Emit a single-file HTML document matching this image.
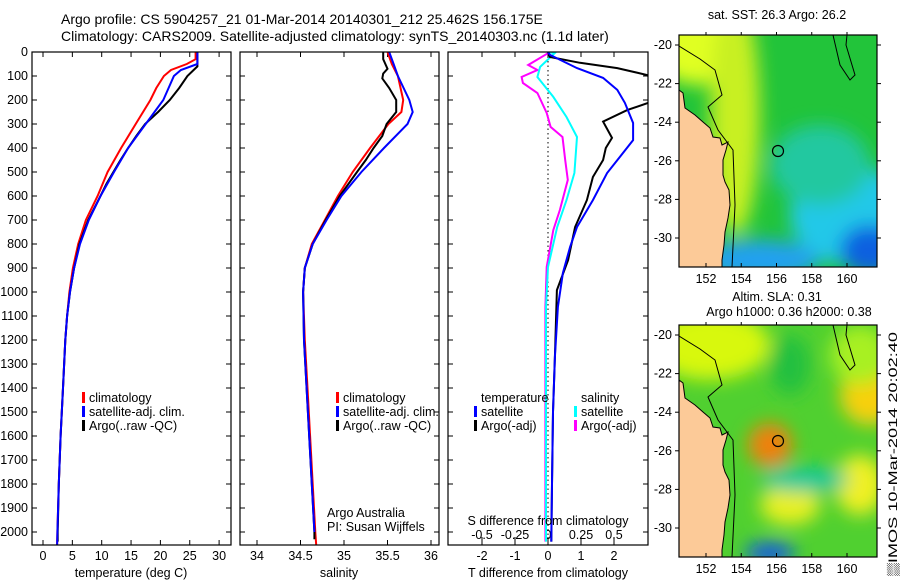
<!DOCTYPE html>
<html><head><meta charset="utf-8"><style>
body{margin:0;background:#fff;}
svg{display:block;font-family:"Liberation Sans",sans-serif;}
text{font-size:12.5px;fill:#000;}
</style></head><body>
<svg id="s" width="900" height="580" viewBox="0 0 900 580" xmlns="http://www.w3.org/2000/svg">
<defs>
<filter id="bl" x="-50%" y="-50%" width="200%" height="200%"><feGaussianBlur stdDeviation="9"/></filter>
<clipPath id="c1"><rect x="32" y="52" width="199" height="493"/></clipPath>
<clipPath id="c2"><rect x="240" y="52" width="199" height="493"/></clipPath>
<clipPath id="c3"><rect x="448" y="52" width="200" height="493"/></clipPath>
<clipPath id="m1"><rect x="679" y="35" width="198" height="232"/></clipPath>
<clipPath id="m2"><rect x="679" y="325" width="198" height="232"/></clipPath>
</defs>
<text x="61" y="24" style="font-size:14px">Argo profile: CS 5904257_21 01-Mar-2014 20140301_212 25.462S 156.175E</text>
<text x="61" y="41" style="font-size:14px">Climatology: CARS2009. Satellite-adjusted climatology: synTS_20140303.nc (1.1d later)</text>
<g id="g"></g>
</svg>
<script>
// ---- data ----
const depthTicks=[0,100,200,300,400,500,600,700,800,900,1000,1100,1200,1300,1400,1500,1600,1700,1800,1900,2000];
const tempTicks=[0,5,10,15,20,25,30];
const salTicks=[34,34.5,35,35.5,36];
const tdiffTicks=[-2,-1,0,1,2];
const sdiffTicks=[-0.5,-0.25,0,0.25,0.5];
const sdiffLabels=["-0.5","-0.25","0","0.25","0.5"];
const lonTicks=[152,154,156,158,160];
const latTicks=[-20,-22,-24,-26,-28,-30];

const tClimD=[0,30,50,75,100,150,200,300,400,500,600,700,800,900,1000,1100,1200,1400,1600,1800,2000,2054];
const tClimV=[26,26,24.5,21.8,20.6,19.3,18.3,15.8,13.3,11,9.3,7.3,6,5.1,4.5,4.1,3.8,3.4,3.0,2.7,2.45,2.4];
const tSatD=[0,50,75,100,150,200,300,400,500,600,700,800,900,1000,1100,1200,1400,1600,1800,2000,2054];
const tSatV=[26.3,26.3,23.5,22.3,21.4,20.5,17.5,14.5,12.1,9.8,7.8,6.3,5.3,4.6,4.1,3.8,3.4,3.0,2.7,2.45,2.4];
const tArgD=[0,60,100,150,200,250,300,350,400,450,500,550,600,700,800,900,1000,1100,1200,1400,1600,1800,2000,2040];
const tArgV=[26.3,26.3,24.6,23.2,21.6,19.6,17.4,15.9,14.5,13.2,12,10.8,9.8,7.7,6.2,5.3,4.6,4.1,3.8,3.4,3.0,2.7,2.5,2.5];

const sClimD=[0,50,100,200,250,300,400,500,600,700,800,900,1000,1200,1400,1600,1800,2000,2054];
const sClimV=[35.5,35.55,35.62,35.68,35.66,35.51,35.3,35.1,34.93,34.78,34.63,34.55,34.53,34.55,34.58,34.61,34.64,34.67,34.68];
const sSatD=[0,50,100,200,250,300,400,500,600,700,800,900,1000,1200,1400,1600,1800,2000];
const sSatV=[35.52,35.57,35.62,35.75,35.79,35.73,35.46,35.2,34.97,34.8,34.64,34.55,34.53,34.54,34.57,34.6,34.63,34.66];
const sArgD=[0,30,70,90,110,150,200,250,300,350,400,450,500,600,700,800,900,1000,1200,1400,1600,1800,2000,2030];
const sArgV=[35.45,35.45,35.5,35.45,35.44,35.52,35.6,35.6,35.49,35.44,35.34,35.25,35.15,34.95,34.79,34.64,34.55,34.53,34.54,34.57,34.6,34.63,34.66,34.66];

const dTSatD=[0,12,67,108,158,212,296,367,437,504,617,729,812,921,1062,1271,1500,1800,2040];
const dTSatV=[0,0.06,0.88,1.67,2.1,2.33,2.58,2.58,2.18,1.79,1.36,0.88,0.67,0.45,0.3,0.21,0.15,0.12,0.1];
const dTArgD=[0,21,45,67,96,150,212,242,290,358,400,450,521,617,729,867,992,1271,1500,1800,2040];
const dTArgV=[0,0.06,0.97,2.1,3.0,3.4,3.03,2.4,1.67,1.94,1.75,1.67,1.36,1.18,0.82,0.61,0.27,0.21,0.15,0.12,0.1];
const dSSatD=[0,5,62,104,187,271,354,504,617,729,896,1062,1500,2040];
const dSSatV=[0,0.05,-0.06,-0.08,0.04,0.14,0.22,0.2,0.14,0.07,0,-0.015,-0.015,-0.015];
const dSArgD=[0,5,54,75,104,129,171,254,312,354,450,533,658,742,896,1062,1500,2040];
const dSArgV=[0,0,-0.15,-0.08,-0.2,-0.19,-0.08,-0.01,0.02,0.11,0.13,0.15,0.09,0.04,-0.01,-0.02,-0.02,-0.02];

// ---- helpers ----
const NS="http://www.w3.org/2000/svg", G=document.getElementById('g');
function el(t,a,p){const e=document.createElementNS(NS,t);for(const k in a)e.setAttribute(k,a[k]);(p||G).appendChild(e);return e;}
const yD=d=>52+d*0.24;
const xT=v=>43+v*5.87;
const xS=v=>257+(v-34)*87;
const xDT=v=>548+v*33;
const xDS=v=>548+v*132;
function line(D,V,fx,col,clip,name,w){
  const p=el('polyline',{points:D.map((d,i)=>fx(V[i]).toFixed(1)+','+yD(d).toFixed(1)).join(' '),fill:'none',stroke:col,'stroke-width':w||2,'clip-path':'url(#'+clip+')'});
  
  
}
function txt(x,y,s,anchor,name,extra){
  const t=el('text',Object.assign({x:x,y:y,'text-anchor':anchor||'start'},extra||{}));t.textContent=s;
  
  
  return t;}
function frame(x,y,w,h,name){const r=el('rect',{x:x,y:y,width:w,height:h,fill:'none',stroke:'#000','stroke-width':1.2});
  
  }

// depth axis
depthTicks.forEach(d=>{txt(28,yD(d)+4,String(d),'end','depth-tick-label');
  [32,240,448].forEach(x0=>{el('line',{x1:x0,x2:x0+5,y1:yD(d),y2:yD(d),stroke:'#000'});el('line',{x1:x0+(x0==448?200:199),x2:x0+(x0==448?195:194),y1:yD(d),y2:yD(d),stroke:'#000'});});});

// panel 1
tempTicks.forEach(v=>{const x=xT(v);el('line',{x1:x,x2:x,y1:545,y2:540,stroke:'#000'});el('line',{x1:x,x2:x,y1:52,y2:57,stroke:'#000'});txt(x,560,String(v),'middle','temp-tick-label');});
line(tClimD,tClimV,xT,'#f00','c1','temp-climatology-line');
line(tArgD,tArgV,xT,'#000','c1','temp-argo-line');
line(tSatD,tSatV,xT,'#00f','c1','temp-satellite-line');
frame(32,52,199,493,'temperature-panel');
txt(131,577,'temperature (deg C)','middle','temp-axis-title');
// panel 2
salTicks.forEach(v=>{const x=xS(v);el('line',{x1:x,x2:x,y1:545,y2:540,stroke:'#000'});el('line',{x1:x,x2:x,y1:52,y2:57,stroke:'#000'});txt(x,560,String(v),'middle','sal-tick-label');});
line(sClimD,sClimV,xS,'#f00','c2','sal-climatology-line');
line(sArgD,sArgV,xS,'#000','c2','sal-argo-line');
line(sSatD,sSatV,xS,'#00f','c2','sal-satellite-line');
frame(240,52,199,493,'salinity-panel');
txt(339,577,'salinity','middle','sal-axis-title');
txt(327,517,'Argo Australia','start','credit-1');
txt(327,531,'PI: Susan Wijffels','start','credit-2');
// panel 3
el('line',{x1:548,x2:548,y1:52,y2:545,stroke:'#000','stroke-dasharray':'1.5,3'});
tdiffTicks.forEach(v=>{const x=xDT(v);el('line',{x1:x,x2:x,y1:545,y2:540,stroke:'#000'});el('line',{x1:x,x2:x,y1:52,y2:57,stroke:'#000'});txt(x,560,String(v),'middle','tdiff-tick-label');});
sdiffTicks.forEach((v,i)=>{const x=xDS(v);el('line',{x1:x,x2:x,y1:545,y2:537,stroke:'#000'});txt(x,539,sdiffLabels[i],'middle','sdiff-tick-label');});
line(dSArgD,dSArgV,xDS,'#f0f','c3','sdiff-argo-line');
line(dSSatD,dSSatV,xDS,'#0ff','c3','sdiff-satellite-line');
line(dTArgD,dTArgV,xDT,'#000','c3','tdiff-argo-line');
line(dTSatD,dTSatV,xDT,'#00f','c3','tdiff-satellite-line');
frame(448,52,200,493,'difference-panel');
txt(548,525,'S difference from climatology','middle','sdiff-axis-title');
txt(548,577,'T difference from climatology','middle','tdiff-axis-title');

// legends
function leg(x,y,col,s,name){el('rect',{x:x,y:y-10,width:3,height:11,fill:col});txt(x+7,y,s,'start',name);}
leg(82,402,'#f00','climatology','legend-climatology');
leg(82,416,'#00f','satellite-adj. clim.','legend-satellite');
leg(82,430,'#000','Argo(..raw -QC)','legend-argo');
leg(336,402,'#f00','climatology','legend-sal-climatology');
leg(336,416,'#00f','satellite-adj. clim.','legend-sal-satellite');
leg(336,430,'#000','Argo(..raw -QC)','legend-sal-argo');
txt(481,402,'temperature','start','legend-temperature-head');
leg(474,416,'#00f','satellite','legend-t-satellite');
leg(474,430,'#000','Argo(-adj)','legend-t-argo');
txt(581,402,'salinity','start','legend-salinity-head');
leg(574,416,'#0ff','satellite','legend-s-satellite');
leg(574,430,'#f0f','Argo(-adj)','legend-s-argo');

// maps
const coast=[[679,90],[683,93],[685,108],[695,115],[703,122],[710,128],[713,137],[720,138],[722,145],[728,142],[726,150],[723,160],[723,175],[725,182],[729,190],[730,205],[728,218],[725,232],[724,245],[722,260],[722,267],[679,267]];
function map(oy,clip,blobs,base,name){
  const g=el('g',{'clip-path':'url(#'+clip+')'});
  
  
  el('rect',{x:679,y:oy,width:198,height:232,fill:base},g);
  const bg=el('g',{filter:'url(#bl)'},g);
  blobs.forEach(b=>el('ellipse',{cx:b[0],cy:b[1]+oy,rx:b[2],ry:b[3],fill:b[4]},bg));
  el('polygon',{points:coast.map(p=>p[0]+','+(p[1]-35+oy)).join(' '),fill:'#fcca98',stroke:'#000','stroke-width':1},g);
  el('polyline',{points:'679,'+(oy+11)+' 700,'+(oy+24)+' 715,'+(oy+35)+' 722,'+(oy+60)+' 708,'+(oy+72)+' 718,'+(oy+95)+' 733,'+(oy+115)+' 735,'+(oy+170)+' 732,'+(oy+232),fill:'none',stroke:'#000'},g);
  el('polyline',{points:'833,'+oy+' 840,'+(oy+30)+' 850,'+(oy+45)+' 855,'+(oy+40)+' 846,'+(oy+10)+' 847,'+oy,fill:'none',stroke:'#000'},g);
  el('circle',{cx:778,cy:oy+116,r:5.5,fill:'none',stroke:'#000','stroke-width':1.2},g);
  frame(679,oy,198,232,name+'-frame');
  const x0=706,dx=(847-706)/8,yy=oy+10,dy=(203-10)/10;
  lonTicks.forEach(v=>{const x=x0+(v-152)*dx;el('line',{x1:x,x2:x,y1:oy+232,y2:oy+228,stroke:'#000'});el('line',{x1:x,x2:x,y1:oy,y2:oy-3,stroke:'#000'});txt(x,oy+248,String(v),'middle','lon-tick-label');});
  latTicks.forEach(v=>{const y=yy+(-20-v)*dy;el('line',{x1:679,x2:675,y1:y,y2:y,stroke:'#000'});el('line',{x1:877,x2:881,y1:y,y2:y,stroke:'#000'});txt(672,y+4,String(v),'end','lat-tick-label');});
}
map(35,'m1',[[700,10,50,40,'#e0ff20'],[735,80,25,120,'#c8f020'],[850,180,60,50,'#20c8e8'],[870,215,30,25,'#1060e0'],[760,225,60,20,'#20a0f0'],[820,130,50,40,'#22c8a0']],'#22c43a','sst-map');
map(325,'m2',[[710,20,60,35,'#d8f810'],[770,120,22,22,'#f08010'],[870,70,30,30,'#f8d010'],[860,160,25,30,'#f0f020'],[790,180,30,20,'#e8f020'],[805,155,45,12,'#10c8a0'],[770,228,25,10,'#1050f0'],[790,40,20,30,'#20c040'],[860,30,30,30,'#a8f020']],'#50d030','sla-map');
txt(777,19,'sat. SST: 26.3 Argo: 26.2','middle','sst-map-title');
txt(777,301,'Altim. SLA: 0.31','middle','sla-map-title-1');
txt(789,316,'Argo h1000: 0.36 h2000: 0.38','middle','sla-map-title-2');
txt(0,0,'\u2592IMOS 10-Mar-2014 20:02:40','start','timestamp',{transform:'translate(897,576) rotate(-90)',style:'font-size:12px','textLength':244,'lengthAdjust':'spacingAndGlyphs'});
</script>
</body></html>
